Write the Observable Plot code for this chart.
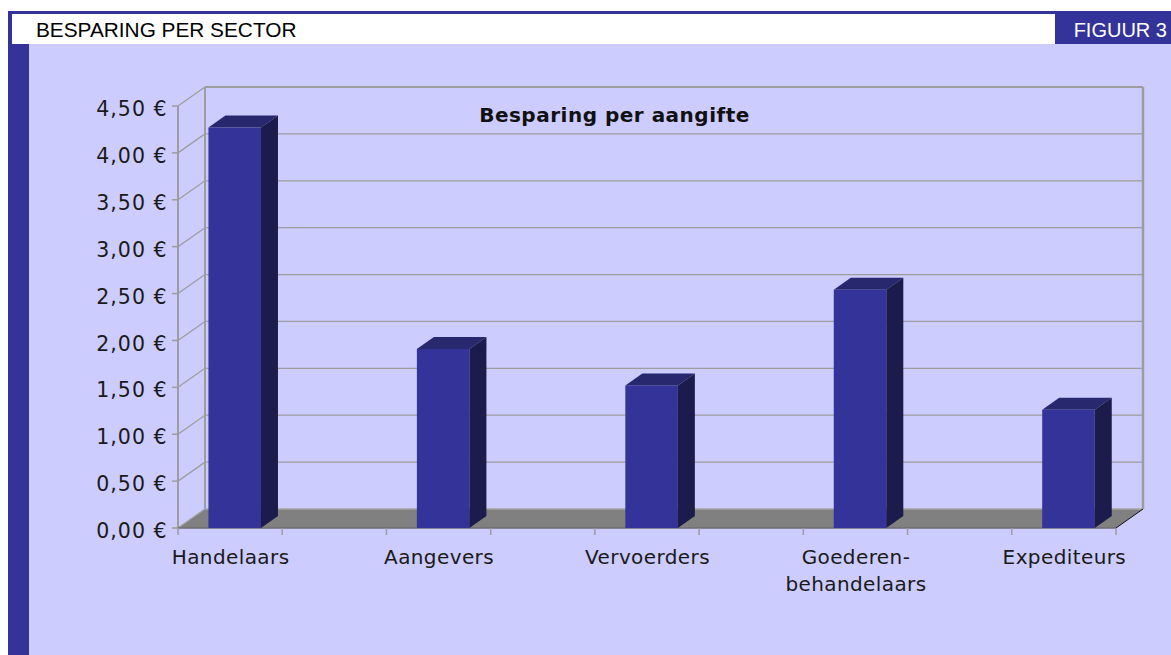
<!DOCTYPE html>
<html>
<head>
<meta charset="utf-8">
<script src="https://cdn.jsdelivr.net/npm/d3@7"></script>
<script src="https://cdn.jsdelivr.net/npm/@observablehq/plot@0.6"></script>
<style>
  html, body { margin: 0; padding: 0; background: #ffffff; width: 1171px; height: 655px; overflow: hidden; }
  #topline { position: absolute; left: 8px; top: 11px; width: 1163px; height: 3px; background: #333399; }
  #leftthin { position: absolute; left: 8px; top: 11px; width: 4px; height: 33px; background: #333399; }
  #leftbar { position: absolute; left: 8px; top: 44px; width: 21px; height: 611px; background: #333399; }
  #header { position: absolute; left: 36px; top: 15px; height: 30px; line-height: 30px;
            font-family: "Liberation Sans", Arial, sans-serif; font-size: 20.8px; color: #000; white-space: nowrap; }
  #fig { position: absolute; left: 1055px; top: 11px; width: 116px; height: 33px; background: #333399; }
  #figtext { position: absolute; right: 4px; top: 4px; height: 30px; line-height: 30px;
             font-family: "Liberation Sans", Arial, sans-serif; font-size: 20px; color: #fff; white-space: nowrap; }
  #chart { position: absolute; left: 29px; top: 44px; }
  .ylab text { letter-spacing: 1px; }
  .xlab text { letter-spacing: 0.4px; }
  .ttl text { letter-spacing: 0.5px; }
</style>
</head>
<body>
<div id="topline"></div>
<div id="leftthin"></div>
<div id="leftbar"></div>
<div id="header">BESPARING PER SECTOR</div>
<div id="fig"><div id="figtext">FIGUUR 3</div></div>
<div id="chart"></div>
<script>
// ---- data ----
const categories = ["Handelaars", "Aangevers", "Vervoerders", "Goederen-\nbehandelaars", "Expediteurs"];
const values = [4.27, 1.91, 1.52, 2.54, 1.26];
const yTicks = [0, 0.5, 1, 1.5, 2, 2.5, 3, 3.5, 4, 4.5];
const yTickLabels = ["0,00 €", "0,50 €", "1,00 €", "1,50 €", "2,00 €", "2,50 €", "3,00 €", "3,50 €", "4,00 €", "4,50 €"];
const chartTitle = "Besparing per aangifte";

// ---- table for marks ----
const data = categories.map((name, i) => ({i, name, value: values[i]}));

// ---- 3D geometry parameters ----
const DX = 27, DY = -19;          // depth offset in pixels
const xLo = -0.25, xHi = categories.length - 1 + 0.25;
const yMax = d3.max(yTicks);
const barHalf = 0.126, barShift = 0.022, barDepth = 0.63;
const xTickPos = Array.from(new Set(data.flatMap(d => [d.i - 0.25, d.i + 0.25])));

const grid = "#9d9d9d";
const frontCol = "#333399", topCol = "#28286f", sideCol = "#1b1b4c";

function makeP(x, y) { return (xv, yv, d) => [x(xv) + DX * d, y(yv) + DY * d]; }

function background3d(index, scales) {
  const {x, y} = scales;
  const P = makeP(x, y);
  const g = d3.create("svg:g");
  const line = (a, b, stroke, w) => g.append("line")
    .attr("x1", a[0]).attr("y1", a[1]).attr("x2", b[0]).attr("y2", b[1])
    .attr("stroke", stroke).attr("stroke-width", w);
  const poly = (pts, fill) => g.append("polygon")
    .attr("points", pts.map(p => p.join(",")).join(" ")).attr("fill", fill);
  // floor
  poly([P(xLo, 0, 0), P(xHi, 0, 0), P(xHi, 0, 1), P(xLo, 0, 1)], "#808080");
  // back wall gridlines
  for (const t of yTicks) if (t > 0 && t < yMax) line(P(xLo, t, 1), P(xHi, t, 1), grid, 1.3);
  // side wall diagonals
  for (const t of yTicks) line(P(xLo, t, 0), P(xLo, t, 1), grid, 1.3);
  // wall edges
  line(P(xLo, 0, 1), P(xLo, yMax, 1), grid, 2);
  line(P(xLo, yMax, 1), P(xHi, yMax, 1), grid, 2);
  line(P(xHi, 0, 1), P(xHi, yMax, 1), grid, 2.5);
  line(P(xLo, 0, 0), P(xLo, yMax, 0), grid, 2);
  // floor edges
  line(P(xLo, 0, 1), P(xHi, 0, 1), "#a4a4a4", 1.3);
  line(P(xLo, 0, 0), P(xHi, 0, 0), "#6f6f6f", 1.5);
  line(P(xHi, 0, 0), P(xHi, 0, 1), "#111111", 1);
  // x ticks
  for (const xt of xTickPos) { const p = P(xt, 0, 0); line(p, [p[0], p[1] + 7], grid, 1.5); }
  // y ticks
  for (const t of yTicks) { const p = P(xLo, t, 0); line([p[0] - 6, p[1]], p, grid, 1.5); }
  return g.node();
}

function barSides(index, scales) {
  const {x, y} = scales;
  const P = makeP(x, y);
  const g = d3.create("svg:g");
  const poly = (pts, fill) => g.append("polygon")
    .attr("points", pts.map(p => p.join(",")).join(" ")).attr("fill", fill);
  for (const d of data) {
    const l = d.i + barShift - barHalf, r = d.i + barShift + barHalf, v = d.value;
    poly([P(l, v, 0), P(r, v, 0), P(r, v, barDepth), P(l, v, barDepth)], topCol);
    poly([P(r, 0, 0), P(r, v, 0), P(r, v, barDepth), P(r, 0, barDepth)], sideCol);
  }
  return g.node();
}

const plot = Plot.plot({
  width: 1142,
  height: 611,
  marginLeft: 149,
  marginRight: 55,
  marginTop: 62,
  marginBottom: 127,
  x: {type: "linear", domain: [xLo, xHi], axis: null},
  y: {type: "linear", domain: [0, yMax], axis: null},
  style: {background: "#ccccff", fontFamily: "'DejaVu Sans', Verdana, sans-serif", color: "#1a1a1a"},
  marks: [
    background3d,
    Plot.rectY(data, {x1: d => d.i + barShift - barHalf, x2: d => d.i + barShift + barHalf, y1: 0, y2: "value", fill: frontCol}),
    barSides,
    Plot.text(yTicks, {x: xLo, y: d => d, text: (d, i) => yTickLabels[i], textAnchor: "end", dx: -11, dy: 3,
      fontSize: 20.5, fill: "#1a1a1a", className: "ylab"}),
    Plot.text(data, {x: "i", y: 0, text: "name", lineAnchor: "top", lineHeight: 1.35, dy: 16,
      fontSize: 20, fill: "#1a1a1a", className: "xlab"}),
    Plot.text([chartTitle], {frameAnchor: "top", lineAnchor: "top", dx: -33, dy: 1, fontSize: 20,
      fontWeight: "bold", fill: "#111", className: "ttl"})
  ]
});
document.getElementById("chart").appendChild(plot);
</script>
</body>
</html>
